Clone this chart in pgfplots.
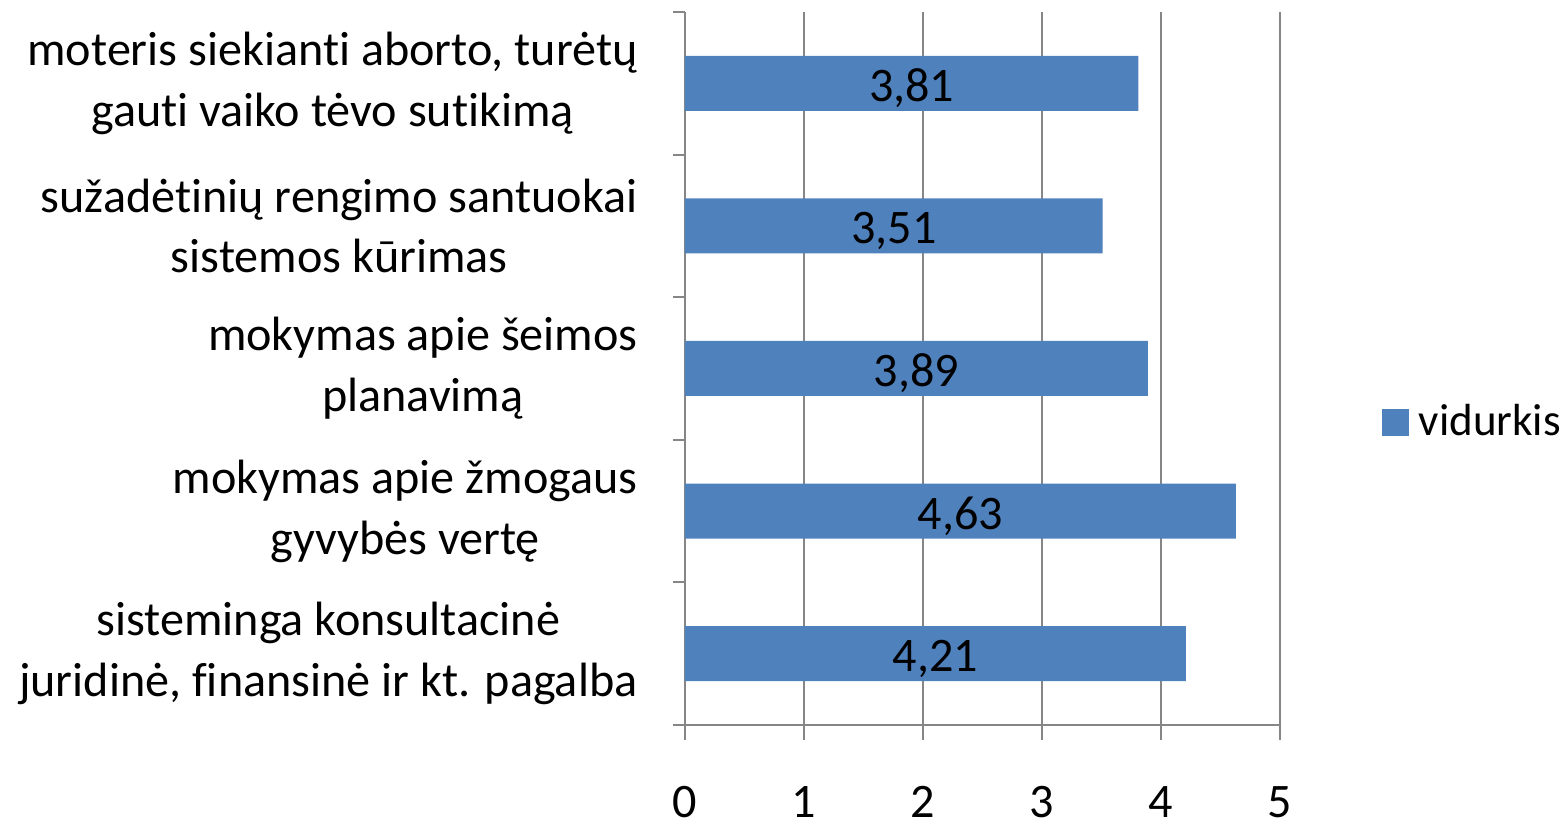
\documentclass[border=0pt]{standalone}
\usepackage{pgfplots}
\pgfplotsset{compat=1.18}
\usepackage{pgfplotstable}
\usepackage{fontspec}
\setmainfont[Ligatures=NoCommon]{Carlito}
\definecolor{barblue}{HTML}{4F81BD}
\definecolor{gridgray}{HTML}{868686}
\pgfplotstableread{
y v
0 4.21
1 4.63
2 3.89
3 3.51
4 3.81
}\datatable
\begin{document}
\begin{tikzpicture}
\begin{axis}[
  at={(0,0)}, anchor=south west,
  scale only axis, width=59.5mm, height=71.3mm,
  xmin=0, xmax=5, ymin=-0.5, ymax=4.5,
  xtick={0,1,2,3,4,5},
  ytick={0,1,2,3,4},
  yticklabels={{sisteminga konsultacinė\\juridinė, finansinė ir kt. pagalba},
               {mokymas apie žmogaus\\gyvybės vertę},
               {mokymas apie šeimos\\planavimą},
               {sužadėtinių rengimo santuokai\\sistemos kūrimas},
               {moteris siekianti aborto, turėtų\\gauti vaiko tėvo sutikimą}},
  minor ytick={-0.5,0.5,1.5,2.5,3.5,4.5},
  axis x line*=bottom, axis y line*=left,
  axis line style={draw=gridgray, line width=0.6pt, -},
  tick style={draw=gridgray, line width=0.6pt},
  tick align=outside,
  major tick length=1.5mm, minor tick length=1.2mm,
  every major y tick/.style={draw=none},
  xmajorgrids,
  major grid style={draw=gridgray, line width=0.6pt},
  tick label style={font=\fontsize{13.7}{17.3}\selectfont},
  yticklabel style={align=center, xshift=-2mm},
  xticklabel style={yshift=-3.4mm},
  /pgf/number format/assume math mode=true,
  legend style={at={(1.17,0.424)}, anchor=west, draw=none, fill=none,
    font=\fontsize{12.8}{16}\selectfont, inner sep=0pt},
  legend cell align=left,
  legend image code/.code={\fill[barblue] (0mm,-1.35mm) rectangle (2.7mm,1.35mm);},
]
\addplot[xbar, bar width=5.5mm, fill=barblue, draw=none] table[x=v, y=y] {\datatable};
\addlegendentry{\hspace{0.3mm}vidurkis}
\addplot[forget plot, draw=none, mark=none, nodes near coords={\pgfmathprintnumber[fixed, fixed zerofill, precision=2, use comma, assume math mode=true]{\pgfplotspointmeta}},
  point meta=explicit, nodes near coords style={anchor=center, yshift=-0.5mm, font=\fontsize{13.7}{17.3}\selectfont}]
  table[x expr=\thisrow{v}/2, y=y, meta=v] {\datatable};
\end{axis}
\pgfresetboundingbox
\path (-68.5mm,-10.1mm) rectangle (88.3mm,72.5mm);
\end{tikzpicture}
\end{document}
